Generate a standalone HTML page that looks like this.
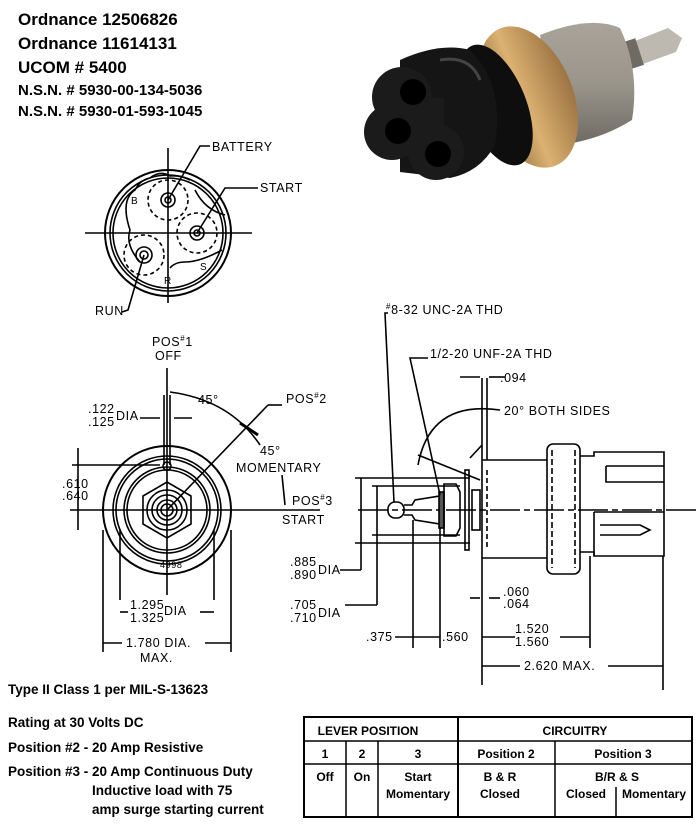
<!DOCTYPE html>
<html><head><meta charset="utf-8"><style>
body{margin:0;background:#fff;width:700px;height:831px;overflow:hidden;font-family:"Liberation Sans",sans-serif}
svg{position:absolute;left:0;top:0}
.h{font-weight:bold;font-size:17px}
.s{font-weight:bold;font-size:15px}
.b{font-weight:bold;font-size:13.5px}
.d{font-size:12.5px;font-family:"Liberation Sans",sans-serif;letter-spacing:0.6px}
.t{font-weight:bold;font-size:12px;text-anchor:middle}
</style></head><body>
<svg width="700" height="831" viewBox="0 0 700 831" xmlns="http://www.w3.org/2000/svg">
<defs>
<linearGradient id="brass" x1="0" x2="1"><stop offset="0" stop-color="#8a6a3a"/><stop offset=".45" stop-color="#dcb172"/><stop offset="1" stop-color="#9c7442"/></linearGradient>
<linearGradient id="steel" x1="0" x2="0" y1="0" y2="1"><stop offset="0" stop-color="#a9a499"/><stop offset=".5" stop-color="#9a958b"/><stop offset="1" stop-color="#6e6a63"/></linearGradient>
</defs>
<text x="18" y="25" class="h">Ordnance 12506826</text>
<text x="18" y="49" class="h">Ordnance 11614131</text>
<text x="18" y="73" class="h">UCOM # 5400</text>
<text x="18" y="95" class="s">N.S.N. # 5930-00-134-5036</text>
<text x="18" y="116" class="s">N.S.N. # 5930-01-593-1045</text>

<!-- photo -->
<g>
<path d="M625 45 L668 28 L682 38 L676 52 L632 68 Z" fill="#bdb8b0"/>
<rect x="624" y="40" width="16" height="28" fill="#6f6a63" transform="rotate(-18 632 54)"/>
<path d="M540 35 Q590 15 620 28 Q640 70 632 120 Q600 140 560 145 Z" fill="url(#steel)"/>
<ellipse cx="528" cy="97" rx="45" ry="74" transform="rotate(-22 528 97)" fill="url(#brass)"/>
<ellipse cx="496" cy="105" rx="30" ry="64" transform="rotate(-22 496 105)" fill="#0e0e0e"/>
<path d="M400 60 Q440 42 470 50 Q505 85 495 145 Q480 172 450 178 L400 172 Z" fill="#151515"/>
<circle cx="402" cy="97" r="30" fill="#1b1b1b"/>
<circle cx="392" cy="132" r="28" fill="#1b1b1b"/>
<circle cx="436" cy="152" r="28" fill="#1b1b1b"/>
<rect x="388" y="98" width="56" height="56" fill="#1b1b1b"/>
<path d="M440 60 Q470 55 480 80" stroke="#444" stroke-width="3" fill="none"/>
<circle cx="413" cy="92" r="13" fill="#000"/>
<circle cx="398" cy="131" r="13" fill="#000"/>
<circle cx="438" cy="154" r="13" fill="#000"/>
</g>

<g stroke="#000" fill="none" stroke-width="1.6">
<line x1="85" y1="233" x2="252" y2="233"/>
<line x1="168" y1="148" x2="168" y2="303"/>
<circle cx="168" cy="233" r="63" stroke-width="2"/>
<circle cx="168" cy="233" r="58"/>
<circle cx="168" cy="233" r="55"/>
<path d="M150 178 Q160 170 170 176 Q180 175 190 180 M195 190 Q205 210 225 215 M222 250 Q200 262 185 262 Q175 262 170 268 M140 262 Q125 245 130 230 Q120 200 135 190 Q140 180 150 178"/>
<circle cx="168" cy="200" r="20" stroke-dasharray="4 3"/><circle cx="168" cy="200" r="7"/><circle cx="168" cy="200" r="3"/>
<circle cx="197" cy="233" r="20" stroke-dasharray="4 3"/><circle cx="197" cy="233" r="7"/><circle cx="197" cy="233" r="3"/>
<circle cx="144" cy="255" r="20" stroke-dasharray="4 3"/><circle cx="144" cy="255" r="8"/><circle cx="144" cy="255" r="4"/>
<path d="M168 200 L200 146 L210 146"/>
<path d="M197 233 L225 188 L258 188"/>
<path d="M144 255 L128 310 L122 312"/>
</g>
<g class="d">
<text x="212" y="151">BATTERY</text><text x="260" y="192">START</text><text x="95" y="315">RUN</text>
<text x="131" y="204" font-size="10">B</text><text x="200" y="270" font-size="10">S</text><text x="164" y="284" font-size="10">R</text>
</g>

<g stroke="#000" fill="none" stroke-width="1.6">
<line x1="70" y1="510" x2="320" y2="510"/>
<line x1="167" y1="368" x2="167" y2="595"/>
<line x1="164" y1="395" x2="164" y2="465"/><line x1="170" y1="395" x2="170" y2="465"/>
<circle cx="167" cy="510" r="64" stroke-width="2"/>
<circle cx="167" cy="510" r="54"/>
<circle cx="167" cy="510" r="51"/>
<circle cx="167" cy="510" r="43"/>
<circle cx="167" cy="510" r="40"/>
<polygon points="167,482 191,496 191,524 167,538 143,524 143,496"/>
<circle cx="167" cy="510" r="20"/><circle cx="167" cy="510" r="15"/><circle cx="167" cy="510" r="10"/><circle cx="167" cy="510" r="6"/>
<circle cx="167" cy="466" r="4"/>
<line x1="167" y1="510" x2="268" y2="405"/><line x1="268" y1="405" x2="282" y2="405"/>
<path d="M170 392 Q230 400 260 445"/>
<line x1="240" y1="423" x2="258" y2="435" stroke-width="3"/>
<line x1="282" y1="475" x2="285" y2="505"/>
<line x1="72" y1="465" x2="160" y2="465"/>
<line x1="78" y1="448" x2="78" y2="530"/>
<line x1="140" y1="418" x2="160" y2="418"/><line x1="174" y1="418" x2="192" y2="418"/>
<line x1="120" y1="530" x2="120" y2="600"/><line x1="214" y1="530" x2="214" y2="600"/>
<line x1="120" y1="612" x2="128" y2="612"/><line x1="200" y1="612" x2="214" y2="612"/>
<line x1="103" y1="530" x2="103" y2="652"/><line x1="231" y1="530" x2="231" y2="652"/>
<line x1="103" y1="643" x2="122" y2="643"/><line x1="205" y1="643" x2="231" y2="643"/>
</g>
<g class="d">
<text x="152" y="346">POS<tspan font-size="8" dy="-5">#</tspan><tspan dy="5">1</tspan></text>
<text x="155" y="360">OFF</text>
<text x="198" y="404">45°</text>
<text x="286" y="403">POS<tspan font-size="8" dy="-5">#</tspan><tspan dy="5">2</tspan></text>
<text x="260" y="455">45°</text>
<text x="236" y="472">MOMENTARY</text>
<text x="292" y="505">POS<tspan font-size="8" dy="-5">#</tspan><tspan dy="5">3</tspan></text>
<text x="282" y="524">START</text>
<text x="88" y="413">.122</text><text x="88" y="426">.125</text><text x="116" y="420">DIA</text>
<text x="62" y="488">.610</text><text x="62" y="500">.640</text>
<text x="130" y="609">1.295</text><text x="130" y="622">1.325</text><text x="164" y="615">DIA</text>
<text x="126" y="647">1.780 DIA.</text><text x="140" y="662">MAX.</text>
<text x="160" y="568" font-size="9">4998</text>
<text x="290" y="566">.885</text><text x="290" y="579">.890</text><text x="318" y="574">DIA</text>
<text x="290" y="609">.705</text><text x="290" y="622">.710</text><text x="318" y="617">DIA</text>
</g>

<g stroke="#000" fill="none" stroke-width="1.6">
<line x1="358" y1="510" x2="700" y2="510" stroke-dasharray="30 4 6 4"/>
<line x1="355" y1="478" x2="470" y2="478"/><line x1="355" y1="543" x2="470" y2="543"/>
<line x1="372" y1="486" x2="460" y2="486"/><line x1="372" y1="535" x2="460" y2="535"/>
<line x1="361" y1="478" x2="361" y2="570"/><line x1="340" y1="570" x2="361" y2="570"/>
<line x1="377" y1="486" x2="377" y2="605"/><line x1="345" y1="605" x2="377" y2="605"/>
<rect x="388" y="502" width="16" height="16" rx="7"/>
<path d="M404 505 L412 505 L415 500 L440 496 L440 524 L415 520 L412 515 L404 515"/>
<rect x="439" y="492" width="5" height="36" fill="#555"/>
<path d="M444 484 L456 484 L460 492 L460 528 L456 536 L444 536 Z"/>
<rect x="465" y="470" width="4" height="80"/>
<rect x="472" y="490" width="8" height="40"/>
<line x1="482" y1="460" x2="482" y2="685"/>
<line x1="487" y1="470" x2="487" y2="550" stroke-dasharray="5 3"/>
<path d="M482 460 L547 460 M482 558 L547 558"/>
<rect x="547" y="444" width="33" height="130" rx="6"/>
<line x1="552" y1="450" x2="552" y2="568" stroke-dasharray="6 3"/><line x1="575" y1="450" x2="575" y2="568" stroke-dasharray="6 3"/>
<path d="M580 456 L594 456 L594 452 L664 452 L664 556 L594 556 L594 552 L580 552"/>
<path d="M606 466 L664 466 M606 466 L606 482 L664 482"/>
<path d="M594 512 L664 512 M594 512 L594 556"/>
<path d="M600 525 L640 525 L650 530 L640 535 L600 535"/>
<line x1="470" y1="458" x2="482" y2="445"/>
<line x1="418" y1="455" x2="480" y2="480"/>
<path d="M418 465 Q430 400 500 410"/>
<line x1="482" y1="378" x2="482" y2="460"/><line x1="487" y1="378" x2="487" y2="460"/>
<line x1="460" y1="377" x2="480" y2="377"/><line x1="489" y1="377" x2="505" y2="377"/>
<path d="M394 502 L385 313 L388 313"/>
<path d="M440 495 L410 358 L428 358"/>
<line x1="413" y1="520" x2="413" y2="648"/>
<line x1="440" y1="528" x2="440" y2="648"/>
<line x1="590" y1="556" x2="590" y2="648"/>
<line x1="663" y1="556" x2="663" y2="690"/>
<line x1="470" y1="598" x2="480" y2="598"/><line x1="489" y1="598" x2="500" y2="598"/>
<line x1="395" y1="637" x2="413" y2="637"/><line x1="413" y1="637" x2="440" y2="637"/>
<line x1="482" y1="637" x2="515" y2="637"/><line x1="560" y1="637" x2="590" y2="637"/>
<line x1="482" y1="666" x2="520" y2="666"/><line x1="608" y1="666" x2="663" y2="666"/>
</g>
<g class="d">
<text x="386" y="314"><tspan font-size="8" dy="-5">#</tspan><tspan dy="5">8-32 UNC-2A THD</tspan></text>
<text x="430" y="358">1/2-20 UNF-2A THD</text>
<text x="500" y="382">.094</text>
<text x="504" y="415">20° BOTH SIDES</text>
<text x="503" y="596">.060</text><text x="503" y="608">.064</text>
<text x="366" y="641">.375</text><text x="442" y="641">.560</text>
<text x="515" y="633">1.520</text><text x="515" y="646">1.560</text>
<text x="524" y="670">2.620 MAX.</text>
</g>

<text x="8" y="694" class="b" font-size="12.5">Type II Class 1 per MIL-S-13623</text>
<text x="8" y="727" class="b">Rating at 30 Volts DC</text>
<text x="8" y="752" class="b">Position #2 - 20 Amp Resistive</text>
<text x="8" y="776" class="b">Position #3 - 20 Amp Continuous Duty</text>
<text x="92" y="795" class="b">Inductive load with 75</text>
<text x="92" y="814" class="b">amp surge starting current</text>

<g stroke="#000" fill="none">
<rect x="304" y="717" width="388" height="100" stroke-width="2"/>
<line x1="304" y1="741" x2="692" y2="741" stroke-width="1.5"/>
<line x1="304" y1="764" x2="692" y2="764" stroke-width="1.5"/>
<line x1="458" y1="717" x2="458" y2="817" stroke-width="2"/>
<line x1="346" y1="741" x2="346" y2="817" stroke-width="1.5"/>
<line x1="378" y1="741" x2="378" y2="817" stroke-width="1.5"/>
<line x1="555" y1="741" x2="555" y2="817" stroke-width="1.5"/>
<line x1="616" y1="787" x2="616" y2="817" stroke-width="1.5"/>
</g>
<g class="t">
<text x="368" y="735">LEVER POSITION</text>
<text x="575" y="735">CIRCUITRY</text>
<text x="325" y="758">1</text><text x="362" y="758">2</text><text x="418" y="758">3</text>
<text x="506" y="758">Position 2</text><text x="623" y="758">Position 3</text>
<text x="325" y="781">Off</text><text x="362" y="781">On</text>
<text x="418" y="781">Start</text><text x="418" y="798">Momentary</text>
<text x="500" y="781">B &amp; R</text><text x="500" y="798">Closed</text>
<text x="617" y="781">B/R &amp; S</text>
<text x="586" y="798">Closed</text><text x="654" y="798">Momentary</text>
</g>
</svg>
</body></html>
